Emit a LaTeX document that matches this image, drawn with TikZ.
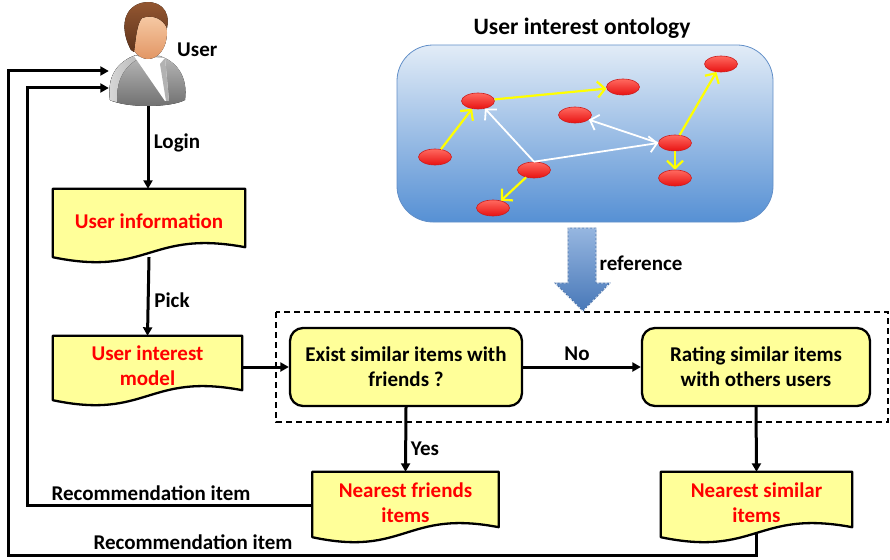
\documentclass[tikz,border=0pt]{standalone}
\usepackage{fontspec}
\setmainfont{Carlito}
\usetikzlibrary{arrows.meta,shapes.geometric,backgrounds,calc}

\definecolor{docyellow}{RGB}{255,255,153}
\definecolor{txtred}{RGB}{255,0,0}
\definecolor{skytop}{RGB}{226,236,247}
\definecolor{skybot}{RGB}{86,144,212}
\definecolor{skyedge}{RGB}{98,143,200}
\definecolor{dottop}{RGB}{255,105,95}
\definecolor{dotbot}{RGB}{232,18,18}
\definecolor{dotedge}{RGB}{205,30,30}
\definecolor{linkyel}{RGB}{255,255,0}
\definecolor{hairtop}{RGB}{150,88,50}
\definecolor{hairbot}{RGB}{95,52,28}
\definecolor{skintop}{RGB}{250,212,178}
\definecolor{skinbot}{RGB}{226,150,100}
\definecolor{suitlight}{RGB}{185,185,185}
\definecolor{suitdark}{RGB}{110,110,110}
\definecolor{bigtop}{RGB}{150,182,224}
\definecolor{bigbot}{RGB}{72,120,184}
\definecolor{bigedge}{RGB}{70,112,170}

% Document outline with a wavy lower edge, drawn behind the node #1
\newcommand\docoutline[1]{%
  \begin{pgfonlayer}{background}
    \path let \p1=(#1.north west), \p2=(#1.south east) in
      [docframe]
      (\x1,\y1) -- (\x2,\y1) -- (\x2,\y2+6)
      .. controls ({(\x1+\x2)/2},\y2+24) and ({(\x1+\x2)/2},\y2-24) ..
      (\x1,\y2-4) -- cycle;
  \end{pgfonlayer}}

\tikzset{
  flow/.style={line width=3pt,-{Triangle[length=8.5pt,width=9pt]}},
  docframe/.style={draw=black,line width=2.3pt,fill=docyellow,line join=round},
  docnode/.style={inner sep=0pt,text=txtred,align=center,
    font=\fontsize{21}{25}\selectfont\bfseries},
  decision/.style={draw=black,line width=2.3pt,fill=docyellow,rounded corners=13pt,
    align=center,font=\fontsize{21}{25}\selectfont\bfseries,
    minimum height=78pt},
  lbl/.style={font=\fontsize{21}{24}\selectfont\bfseries,inner sep=0pt},
  concept/.style={ellipse,draw=dotedge,line width=0.6pt,top color=dottop,
    bottom color=dotbot,minimum width=33pt,minimum height=16pt,inner sep=0pt},
  ylink/.style={draw=linkyel,line width=2.2pt,
    -{Straight Barb[length=7.5pt,width=16pt,line width=2.2pt]}},
  wlink/.style={draw=white,line width=1.8pt,
    -{Straight Barb[length=7.5pt,width=16pt,line width=1.8pt]}},
}

\begin{document}
\begin{tikzpicture}[x=1pt,y=-1pt]
\useasboundingbox (0,0) rectangle (890,559);

% ---------- user icon ----------
\node[minimum width=78pt,minimum height=106pt,inner sep=0pt] (usr) at (148,53) {};
\fill[left color=suitlight,right color=suitdark,shading angle=0]
  (110,100) .. controls (107,76) and (117,62) .. (136,55)
  -- (160,56) .. controls (178,62) and (188,78) .. (185,100)
  .. controls (170,108) and (126,108) .. (110,100) -- cycle;
\fill[left color=white!85!black,right color=gray!55]
  (110,100) .. controls (107,76) and (117,62) .. (136,55)
  -- (140,58) .. controls (124,66) and (116,80) .. (117,102)
  .. controls (114,102) and (112,101) .. (110,100) -- cycle;
\fill[white] (134,56) -- (165,58) -- (169,101) -- (165,101) -- cycle;
\fill[gray!60] (165,58) -- (169,101) -- (166,101) -- (160,64) -- cycle;
\fill[top color=skintop,bottom color=skinbot]
  (148,33) ellipse [x radius=19, y radius=26];
\fill[top color=hairtop,bottom color=hairbot]
  (131,50) .. controls (121,32) and (121,9) .. (141,3)
  .. controls (158,-1) and (171,9) .. (167,28)
  .. controls (163,19) and (153,14) .. (142,18)
  .. controls (137,24) and (136,36) .. (134,52) -- cycle;
\node[lbl,anchor=west] (usrname) at (177,50) {User};

% ---------- left column ----------
\node[docnode,minimum width=192pt,minimum height=64pt] (uinfo) at (149,221)
  {User information};
\docoutline{uinfo}
\node[docnode,minimum width=189pt,minimum height=60pt] (uim) at (147.5,366)
  {User interest\\model};
\docoutline{uim}

\draw[flow] (usr.south) -- (usr.south |- uinfo.north);
\node[lbl] (login) at (177,143) {Login};
\draw[flow] ($(uinfo.south)+(0,4)$) -- (uim.north);
\node[lbl] (pick) at (172,300) {Pick};

% ---------- decision area ----------
\draw[dashed,dash pattern=on 6pt off 4pt,line width=1.3pt]
  (276,312) coordinate (dbnw) rectangle (888,422) coordinate (dbse);
\node[decision,minimum width=232pt] (exist) at (406,367)
  {Exist similar items with\\friends ?};
\node[decision,minimum width=228pt] (rating) at (756,367)
  {Rating similar items\\with others users};
\draw[flow] (uim.east |- exist.west) -- (exist.west);
\draw[flow] (exist.east) -- (rating.west);
\node[lbl] (no) at (577,354) {No};

% ---------- result documents ----------
\node[docnode,minimum width=186pt,minimum height=61pt] (friends) at (405.5,502.5)
  {Nearest friends\\items};
\docoutline{friends}
\node[docnode,minimum width=191pt,minimum height=61pt] (similar) at (756.5,502.5)
  {Nearest similar\\items};
\docoutline{similar}

\draw[flow] (exist.south) -- (friends.north);
\node[lbl] (yes) at (425,449) {Yes};
\draw[flow] (rating.south) -- (similar.north);

% ---------- feedback loops ----------
\coordinate (loopa) at (27,88);
\coordinate (loopb) at (8,555);
\coordinate (loopc) at (8,71);
\draw[flow,line join=miter] ($(friends.west)+(0,3)$) -| (loopa) -- (loopa -| usr.west);
\node[lbl] (reca) at (151,493) {Recommendation item};
\draw[flow,line join=miter] (similar.south) |- (loopb) -- (loopc) -- (loopc -| usr.west);
\node[lbl] (recb) at (193,542) {Recommendation item};

% ---------- ontology ----------
\node[font=\fontsize{23.5}{28}\selectfont\bfseries] (ontotitle) at (582,28)
  {User interest ontology};
\node[draw=skyedge,line width=0.8pt,rounded corners=36pt,top color=skytop,
  bottom color=skybot,minimum width=376pt,minimum height=177pt] (onto)
  at (585,133.5) {};

\node[concept] (ca) at (478,101) {};
\node[concept] (cb) at (623,87) {};
\node[concept] (cc) at (721,64) {};
\node[concept] (cd) at (575,115) {};
\node[concept] (ce) at (435,157) {};
\node[concept] (cf) at (534,170) {};
\node[concept] (cg) at (675,143) {};
\node[concept] (ch) at (675,178) {};
\node[concept] (ci) at (493,208) {};

\draw[ylink] (ce) -- (ca);
\draw[ylink] (ca) -- (cb);
\draw[ylink] (cg) -- (cc);
\draw[ylink] (cg) -- (ch);
\draw[ylink] (cf) -- (ci);
\draw[wlink] (cf.north) -- (ca);
\draw[wlink] (cf.north) -- (cg.west);
\draw[wlink] (cg.west) -- (cd);

% ---------- reference arrow ----------
\path[top color=bigtop,bottom color=bigbot,draw=bigedge,line width=0.8pt]
  (568,228) -- (596,228) -- (596,283) -- (610,283) -- (583,311)
  -- (555,283) -- (568,283) -- cycle;
\draw[white,dashed,dash pattern=on 2pt off 2pt,line width=0.6pt]
  (568,228) -- (596,228) -- (596,283) -- (610,283) -- (583,311)
  -- (555,283) -- (568,283) -- cycle;
\node[lbl] (refl) at (641,263) {reference};
\end{tikzpicture}
\end{document}
